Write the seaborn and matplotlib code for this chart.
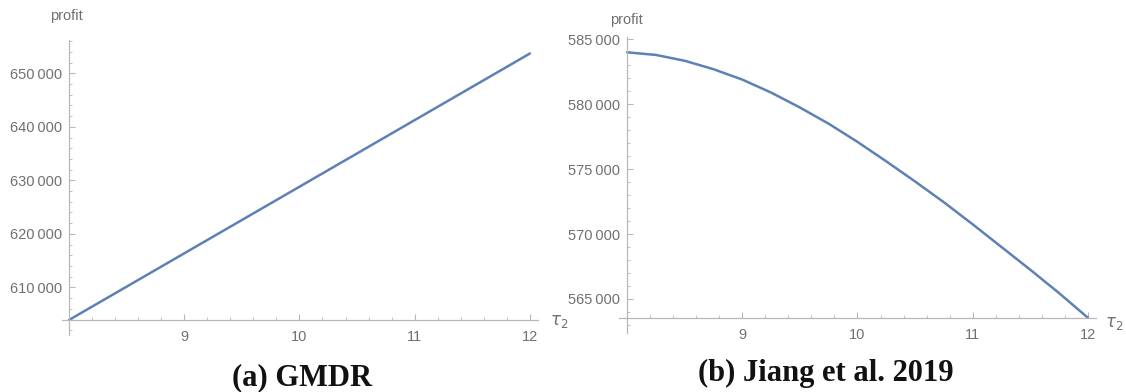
import matplotlib
matplotlib.use("Agg")
import matplotlib.pyplot as plt
import matplotlib.ticker as mticker
import seaborn as sns
import pandas as pd

# ---- data ----
tau2_gmdr = [8, 9, 10, 11, 12]
profit_gmdr = [603900, 616350, 628800, 641250, 653700]

tau2_jiang = [8, 8.25, 8.5, 8.75, 9, 9.25, 9.5, 9.75, 10,
              10.25, 10.5, 10.75, 11, 11.25, 11.5, 11.75, 12]
profit_jiang = [584000, 583800, 583350, 582700, 581900, 580900, 579750, 578500, 577100,
                575600, 574050, 572450, 570750, 569000, 567250, 565450, 563550]

captions = ["(a) GMDR", "(b) Jiang et al. 2019"]
x_major = [9, 10, 11, 12]
y_major_gmdr = [610000, 620000, 630000, 640000, 650000]
y_major_jiang = [565000, 570000, 575000, 580000, 585000]

sns.set_style("white")
plt.rcParams["font.family"] = ["Liberation Sans", "DejaVu Sans"]

LINE = "#5e81b5"
AXC = "#b8b8b8"
LBL = "#707070"

fig = plt.figure(figsize=(11.26, 3.92), dpi=100)
W, H = 1126, 392


def px_axes(l, t, r, b):
    return fig.add_axes([l / W, (H - b) / H, (r - l) / W, (b - t) / H])


def fmt(v, p):
    return f"{int(round(v)):,}".replace(",", "\u2009")


def style(ax, xs, ys, xlim, ylim, yticks, yminor):
    df = pd.DataFrame({"tau2": xs, "profit": ys})
    sns.lineplot(data=df, x="tau2", y="profit", ax=ax, color=LINE, lw=1.8)
    ax.set_xlim(*xlim)
    ax.set_ylim(*ylim)
    for s in ["top", "right"]:
        ax.spines[s].set_visible(False)
    ax.spines["left"].set_position(("data", min(xs)))
    ax.spines["bottom"].set_position(("data", min(ys)))
    for s in ["left", "bottom"]:
        ax.spines[s].set_color(AXC)
        ax.spines[s].set_linewidth(0.9)
    ax.set_xticks(x_major)
    ax.xaxis.set_minor_locator(mticker.MultipleLocator(0.2))
    ax.set_yticks(yticks)
    ax.yaxis.set_minor_locator(mticker.MultipleLocator(yminor))
    ax.yaxis.set_major_formatter(mticker.FuncFormatter(fmt))
    ax.tick_params(which="both", bottom=True, left=True, top=False, right=False)
    ax.tick_params(which="major", direction="in", length=4, width=0.8, color=AXC,
                   labelcolor=LBL, labelsize=10.5)
    ax.tick_params(which="minor", direction="in", length=2.2, width=0.6, color=AXC)
    ax.tick_params(axis="x", which="major", pad=7)
    ax.tick_params(axis="y", which="major", pad=5)
    ax.set_xlabel("")
    ax.set_ylabel("")
    ax.patch.set_alpha(0)


ax1 = px_axes(62, 40, 538, 335)
style(ax1, tau2_gmdr, profit_gmdr, (7.94, 12.07), (601100, 656220), y_major_gmdr, 2000)

ax2 = px_axes(619, 37, 1096, 333)
style(ax2, tau2_jiang, profit_jiang, (7.93, 12.07), (562380, 585180), y_major_jiang, 1000)

# axis labels
fig.text(66 / W, 1 - 16 / H, "profit", ha="center", va="center", color=LBL, fontsize=10.5)
fig.text(626 / W, 1 - 20 / H, "profit", ha="center", va="center", color=LBL, fontsize=10.5)
fig.text(559 / W, 1 - 322 / H, r"$\tau_2$", ha="center", va="center", color=LBL, fontsize=12)
fig.text(1114 / W, 1 - 323 / H, r"$\tau_2$", ha="center", va="center", color=LBL, fontsize=12)

# captions
fig.text(302 / W, 1 - 378 / H, captions[0], ha="center", va="center",
         family="Liberation Serif", fontweight="bold", fontsize=22, color="#111111")
fig.text(826 / W, 1 - 373 / H, captions[1], ha="center", va="center",
         family="Liberation Serif", fontweight="bold", fontsize=22, color="#111111")

fig.savefig("out.png", dpi=100)
